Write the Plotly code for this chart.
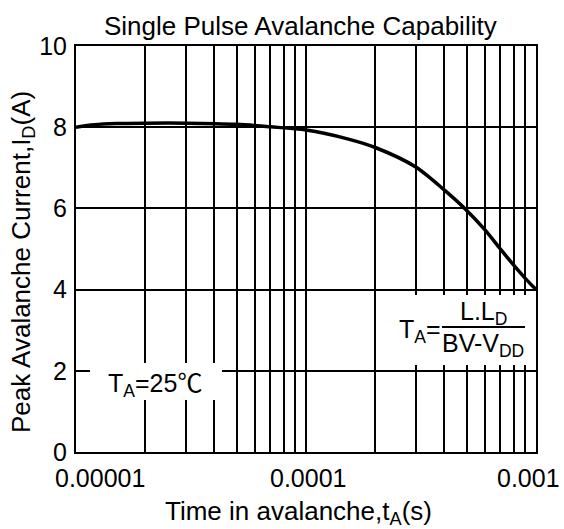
import plotly.graph_objects as go
import math

# ---- data ----
time_s = [1e-5, 1.2e-5, 1.5e-5, 2e-5, 3e-5, 5e-5, 7e-5, 1e-4, 1.5e-4, 2e-4,
          3e-4, 4e-4, 5e-4, 6e-4, 7e-4, 8e-4, 9e-4, 1e-3]
peak_current_a = [8.0, 8.06, 8.09, 8.1, 8.1, 8.07, 8.01, 7.93, 7.72, 7.5,
                  7.02, 6.45, 5.95, 5.47, 5.0, 4.6, 4.27, 4.0]

x_grid_vals = [k * 10.0 ** e for e in (-5, -4) for k in range(1, 10)] + [1e-3]
x_tick_vals = [1e-5, 1e-4, 1e-3]
x_tick_text = ["0.00001", "0.0001", "0.001"]
y_tick_vals = [0, 2, 4, 6, 8, 10]
y_tick_text = ["0", "2", "4", "6", "8", "10"]

FONT = "Liberation Sans, Arial, Helvetica, sans-serif"
W, H = 564, 529
ML, MR, MT, MB = 76, 28, 46, 77
PW, PH = W - ML - MR, H - MT - MB


def px_x(p):  # pixel -> paper
    return (p - ML) / PW


def px_y(p):
    return (H - MB - p) / PH


fig = go.Figure()
fig.add_trace(go.Scatter(
    x=time_s, y=peak_current_a, mode="lines",
    line=dict(color="black", width=3.5, shape="spline", smoothing=0.8),
    showlegend=False, hoverinfo="skip"))

fig.update_xaxes(
    type="log", range=[math.log10(x_tick_vals[0]), math.log10(x_tick_vals[-1])],
    tickmode="array", tickvals=x_grid_vals, showticklabels=False, ticks="",
    showgrid=True, gridcolor="black", gridwidth=2,
    showline=True, linecolor="black", linewidth=2, mirror=True, zeroline=False)
fig.update_yaxes(
    range=[y_tick_vals[0], y_tick_vals[-1]],
    tickmode="array", tickvals=y_tick_vals, ticktext=y_tick_text, ticks="",
    ticklabelstandoff=2,
    tickfont=dict(family=FONT, size=25, color="black"),
    showgrid=True, gridcolor="black", gridwidth=2,
    showline=True, linecolor="black", linewidth=2, mirror=True, zeroline=False)

annotations = []
# x tick labels
x_label_anchor = ["left", "center", "right"]
x_label_shift = [-23, 2, 26]
for v, t, a, s in zip(x_tick_vals, x_tick_text, x_label_anchor, x_label_shift):
    annotations.append(dict(x=math.log10(v), y=0, xref="x", yref="paper",
                            text=t, showarrow=False, xanchor=a, yanchor="middle",
                            xshift=s, yshift=-26,
                            font=dict(family=FONT, size=25, color="black")))
# title
annotations.append(dict(x=px_x(300), y=1, xref="paper", yref="paper",
                        text="Single Pulse Avalanche Capability", showarrow=False,
                        xanchor="center", yanchor="bottom", yshift=3,
                        font=dict(family=FONT, size=26, color="black")))
# axis titles
annotations.append(dict(x=px_x(298), y=0, xref="paper", yref="paper",
                        text="Time in avalanche,t<sub>A</sub>(s)", showarrow=False,
                        xanchor="center", yanchor="middle", yshift=-60,
                        font=dict(family=FONT, size=26, color="black")))
annotations.append(dict(x=0, y=px_y(262), xref="paper", yref="paper",
                        text="Peak Avalanche Current,I<sub>D</sub>(A)", showarrow=False,
                        textangle=-90, xanchor="center", yanchor="middle", xshift=-54,
                        font=dict(family=FONT, size=26, color="black")))
# T_A = 25 C label
annotations.append(dict(x=px_x(155), y=px_y(382), xref="paper", yref="paper",
                        text="T<sub>A</sub>=25<span style=\"font-family:'Noto Sans CJK SC'\">℃</span>",
                        showarrow=False, xanchor="center", yanchor="middle",
                        font=dict(family=FONT, size=25, color="black")))
# formula
annotations.append(dict(x=px_x(397), y=px_y(331), xref="paper", yref="paper",
                        text="T<sub>A</sub>=", showarrow=False,
                        xanchor="left", yanchor="middle",
                        font=dict(family=FONT, size=25, color="black")))
annotations.append(dict(x=px_x(483), y=px_y(313), xref="paper", yref="paper",
                        text="L.L<sub>D</sub>", showarrow=False,
                        xanchor="center", yanchor="middle",
                        font=dict(family=FONT, size=25, color="black")))
annotations.append(dict(x=px_x(483), y=px_y(345), xref="paper", yref="paper",
                        text="BV-V<sub>DD</sub>", showarrow=False,
                        xanchor="center", yanchor="middle",
                        font=dict(family=FONT, size=25, color="black")))

shapes = [
    dict(type="rect", xref="paper", yref="paper", layer="above",
         x0=px_x(90), x1=px_x(222), y0=px_y(400), y1=px_y(363),
         fillcolor="white", line=dict(width=0)),
    dict(type="rect", xref="paper", yref="paper", layer="above",
         x0=px_x(384), x1=px_x(534), y0=px_y(365), y1=px_y(295),
         fillcolor="white", line=dict(width=0)),
    dict(type="line", xref="paper", yref="paper", layer="above",
         x0=px_x(442), x1=px_x(525), y0=px_y(327), y1=px_y(327),
         line=dict(color="black", width=2)),
]

fig.update_layout(
    width=W, height=H, autosize=False,
    margin=dict(l=ML, r=MR, t=MT, b=MB),
    paper_bgcolor="white", plot_bgcolor="white",
    font=dict(family=FONT, color="black"),
    annotations=annotations, shapes=shapes, showlegend=False)

fig.write_html("out.html")
